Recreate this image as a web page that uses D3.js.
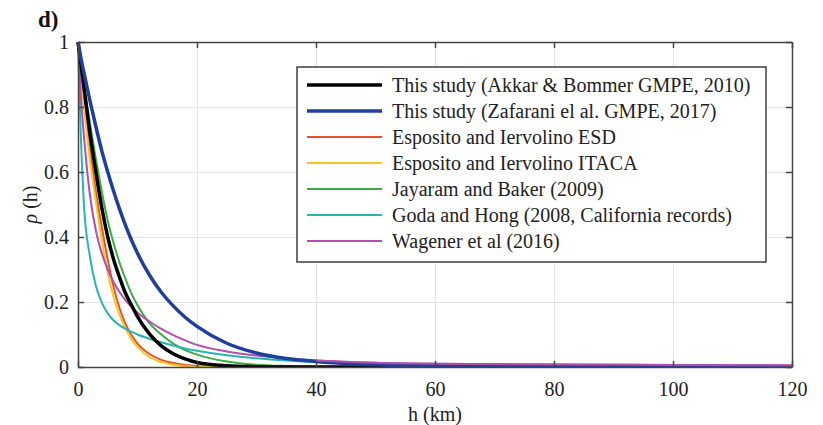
<!DOCTYPE html>
<html>
<head>
<meta charset="utf-8">
<script src="https://cdn.jsdelivr.net/npm/d3@7"></script>
<style>
  body { margin: 0; background: #fff; }
  .grid line { stroke: #e4e4e4; stroke-width: 1; }
  .grid path { display: none; }
</style>
</head>
<body>
<div id="chart"></div>
<script>
var serif = "'Liberation Serif', 'Times New Roman', Times, serif";

var hKm = [0, 0.5, 1, 2, 3, 4, 5, 6, 7, 8, 9, 10, 12, 14, 16, 18, 20, 25, 30, 35, 40, 50, 60, 80, 100, 120];

var akkar    = [1, .93, .86, .72, .60, .49, .40, .33, .275, .226, .19, .155, .102, .065, .041, .025, .014, .004, .001, 0, 0, 0, 0, 0, 0, 0];
var zafarani = [1, .95, .905, .82, .74, .665, .60, .54, .485, .435, .39, .35, .283, .23, .188, .153, .125, .073, .043, .026, .017, .007, .003, .0005, 0, 0];
var espESD   = [1, .91, .82, .67, .54, .43, .33, .245, .18, .132, .098, .072, .04, .022, .012, .006, .003, .001, 0, 0, 0, 0, 0, 0, 0, 0];
var espITACA = [1, .90, .80, .64, .51, .39, .29, .215, .16, .118, .085, .062, .03, .015, .007, .003, .001, 0, 0, 0, 0, 0, 0, 0, 0, 0];
var jayaram  = [1, .93, .87, .75, .64, .54, .45, .38, .32, .27, .225, .19, .135, .10, .072, .052, .038, .017, .007, .003, .001, 0, 0, 0, 0, 0];
var goda     = [1, .70, .50, .34, .25, .198, .165, .143, .128, .117, .108, .10, .087, .076, .066, .057, .05, .036, .027, .02, .015, .008, .005, .002, .001, 0];
var wagener  = [1, .83, .71, .53, .42, .35, .30, .26, .23, .205, .185, .167, .14, .117, .098, .082, .068, .048, .035, .026, .02, .013, .01, .008, .006, .005];

var seriesNames = [
  'This study (Akkar & Bommer GMPE, 2010)',
  'This study (Zafarani el al. GMPE, 2017)',
  'Esposito and Iervolino ESD',
  'Esposito and Iervolino ITACA',
  'Jayaram and Baker (2009)',
  'Goda and Hong (2008, California records)',
  'Wagener et al (2016)'
];
var seriesValues = [akkar, zafarani, espESD, espITACA, jayaram, goda, wagener];
var seriesColors = ['#000000', '#1f3f9e', '#e8512a', '#f4c51a', '#3aac46', '#26b5b3', '#b04fae'];
var seriesWidths = [3.5, 3.5, 2, 2, 2, 2, 2];

var xTicks = [0, 20, 40, 60, 80, 100, 120];
var yTicks = [0, 0.2, 0.4, 0.6, 0.8, 1];

var margin = { top: 42, right: 31, bottom: 58, left: 78 };
var W = 823, H = 425;
var width = W - margin.left - margin.right;
var height = H - margin.top - margin.bottom;

var svg = d3.select('#chart').append('svg')
  .attr('width', W)
  .attr('height', H)
  .style('font-family', serif);

var g = svg.append('g')
  .attr('transform', 'translate(' + margin.left + ',' + margin.top + ')');

var x = d3.scaleLinear().domain([0, 120]).range([0, width]);
var y = d3.scaleLinear().domain([0, 1]).range([height, 0]);

//--- GRID
g.append('g').attr('class', 'grid')
  .attr('transform', 'translate(0,' + height + ')')
  .call(d3.axisBottom(x).tickValues(xTicks.slice(1, -1)).tickSize(-height).tickFormat(''));
g.append('g').attr('class', 'grid')
  .call(d3.axisLeft(y).tickValues(yTicks.slice(1, -1)).tickSize(-width).tickFormat(''));

//--- LINES
var line = d3.line()
  .x(function(d) { return x(d[0]); })
  .y(function(d) { return y(d[1]); })
  .curve(d3.curveMonotoneX);

g.append('clipPath').attr('id', 'clip').append('rect')
  .attr('x', -3).attr('y', -3).attr('width', width + 3).attr('height', height + 3);

// thin ones first, black and blue on top
var order = [2, 3, 4, 5, 6, 0, 1];
order.forEach(function(i) {
  var pts = hKm.map(function(h, j) { return [h, seriesValues[i][j]]; });
  g.append('path')
    .datum(pts)
    .attr('d', line)
    .attr('fill', 'none')
    .attr('stroke', seriesColors[i])
    .attr('stroke-width', seriesWidths[i])
    .attr('stroke-linejoin', 'round')
    .attr('clip-path', 'url(#clip)');
});
// wagener tail shows on top along the axis
g.append('path')
  .datum(hKm.map(function(h, j) { return [h, wagener[j]]; }).filter(function(d) { return d[0] >= 40; }))
  .attr('d', line)
  .attr('fill', 'none')
  .attr('stroke', seriesColors[6])
  .attr('stroke-width', 2);

//--- AXES (ticks inward, full box)
var axisColor = '#444';
function styleAxis(sel) {
  sel.attr('font-family', null);
  sel.select('.domain').attr('stroke', axisColor).attr('stroke-width', 1.5).attr('fill', 'none');
  sel.selectAll('.tick line').attr('stroke', axisColor).attr('stroke-width', 1.5);
  sel.selectAll('.tick text')
    .style('font-family', serif)
    .style('font-size', '20px')
    .attr('fill', '#222');
}

var ax = g.append('g')
  .attr('transform', 'translate(0,' + height + ')')
  .call(d3.axisBottom(x).tickValues(xTicks).tickSize(-6).tickSizeOuter(0).tickPadding(15));
styleAxis(ax);

var ay = g.append('g')
  .call(d3.axisLeft(y).tickValues(yTicks).tickSize(-6).tickSizeOuter(0).tickPadding(9)
    .tickFormat(function(d) { return d === 0 || d === 1 ? d3.format('d')(d) : d3.format('.1f')(d); }));
styleAxis(ay);

var axTop = g.append('g')
  .call(d3.axisTop(x).tickValues(xTicks).tickSize(-6).tickSizeOuter(0).tickFormat(''));
styleAxis(axTop);

var ayRight = g.append('g')
  .attr('transform', 'translate(' + width + ',0)')
  .call(d3.axisRight(y).tickValues(yTicks).tickSize(-6).tickSizeOuter(0).tickFormat(''));
styleAxis(ayRight);

//--- AXIS LABELS
svg.append('text')
  .attr('x', margin.left + x(60))
  .attr('y', 421)
  .attr('text-anchor', 'middle')
  .attr('fill', '#222')
  .style('font-family', serif)
  .style('font-size', '20px')
  .text('h (km)');

var yl = svg.append('text')
  .attr('transform', 'translate(37,' + (margin.top + y(0.5)) + ') rotate(-90)')
  .attr('text-anchor', 'middle')
  .attr('fill', '#222')
  .style('font-family', serif)
  .style('font-size', '20px');
yl.append('tspan').style('font-style', 'italic').text('ρ');
yl.append('tspan').text(' (h)');

svg.append('text')
  .attr('x', 38)
  .attr('y', 27)
  .attr('fill', '#111')
  .style('font-family', serif)
  .style('font-size', '23px')
  .style('font-weight', 'bold')
  .text('d)');

//--- LEGEND
var legend = svg.append('g').attr('transform', 'translate(297,67)');
legend.append('rect')
  .attr('width', 469)
  .attr('height', 195)
  .attr('fill', '#fff')
  .attr('stroke', '#222')
  .attr('stroke-width', 1.3);

seriesNames.forEach(function(name, i) {
  var ly = 18 + i * 26;
  legend.append('line')
    .attr('x1', 10).attr('x2', 85)
    .attr('y1', ly).attr('y2', ly)
    .attr('stroke', seriesColors[i])
    .attr('stroke-width', seriesWidths[i]);
  legend.append('text')
    .attr('x', 95)
    .attr('y', ly)
    .attr('dy', '0.35em')
    .attr('fill', '#222')
    .style('font-family', serif)
    .style('font-size', '20px')
    .text(name);
});
</script>
</body>
</html>
